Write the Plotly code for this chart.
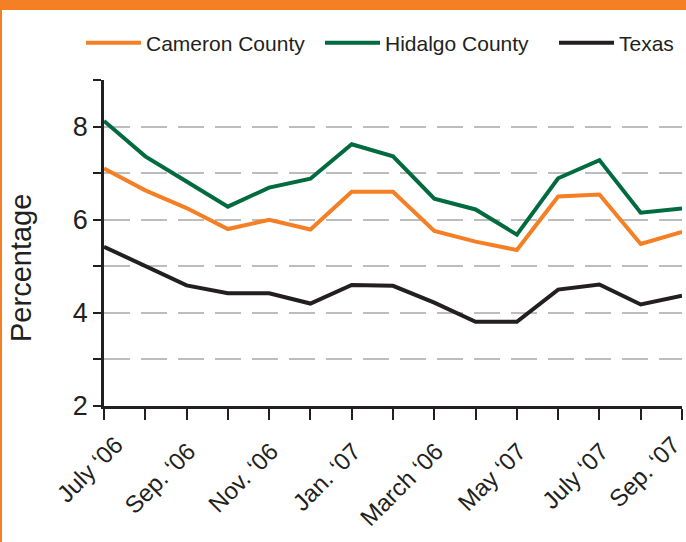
import plotly.graph_objects as go

months = ["Jul 06", "Aug 06", "Sep 06", "Oct 06", "Nov 06", "Dec 06", "Jan 07", "Feb 07",
          "Mar 07", "Apr 07", "May 07", "Jun 07", "Jul 07", "Aug 07", "Sep 07"]
tick_labels = ["July \u201806", "", "Sep. \u201806", "", "Nov. \u201806", "", "Jan. \u201807", "",
               "March \u201806", "", "May \u201807", "", "July \u201807", "", "Sep. \u201807"]
cameron = [7.1, 6.63, 6.25, 5.8, 6.0, 5.79, 6.6, 6.6, 5.76, 5.53, 5.35, 6.5, 6.54, 5.48, 5.74]
hidalgo = [8.12, 7.36, 6.82, 6.28, 6.69, 6.88, 7.62, 7.36, 6.45, 6.22, 5.68, 6.89, 7.28, 6.15, 6.24]
texas = [5.42, 5.0, 4.59, 4.42, 4.42, 4.2, 4.6, 4.58, 4.22, 3.81, 3.81, 4.5, 4.61, 4.18, 4.37]
y_ticks = [2, 3, 4, 5, 6, 7, 8, 9]
y_labels = ["2", "", "4", "", "6", "", "8", ""]

x_idx = list(range(len(months)))
n_last = len(months) - 1

W, H = 686, 542
L, R, T, B = 104, 4, 80, 136
pw, ph = W - L - R, H - T - B
def px(x):
    return (x - L) / pw
def py(y):
    return (H - B - y) / ph

fig = go.Figure()
series = [("Cameron County", cameron, "#f47f24", "legend", 81),
          ("Hidalgo County", hidalgo, "#006b3f", "legend2", 320),
          ("Texas", texas, "#231f20", "legend3", 554)]
legends = {}
for name, vals, col, lg, lx in series:
    fig.add_trace(go.Scatter(x=x_idx, y=vals, mode="lines", name=name, legend=lg,
                             line=dict(color=col, width=4), hoverinfo="skip"))
    legends[lg] = dict(x=px(lx), y=py(43), xanchor="left", yanchor="middle",
                       font=dict(size=21, color="#231f20"), bgcolor="rgba(0,0,0,0)",
                       borderwidth=0, itemwidth=55)

# helper (markless) traces so the overlay label axes are drawn
for ax in ("x2", "x3"):
    fig.add_trace(go.Scatter(x=x_idx, y=texas, mode="none", xaxis=ax, yaxis="y",
                             showlegend=False, hoverinfo="skip"))

# middle labels on the main axis, first/last labels on overlay axes (own offsets)
mid_labels = [t if 0 < i < n_last else "" for i, t in enumerate(tick_labels)]
label_font = dict(size=24, color="#231f20")
common_overlay = dict(range=[0, n_last], overlaying="x", anchor="y", side="bottom",
                      tickmode="array", tickangle=-45, ticks="", showline=False,
                      showgrid=False, zeroline=False, tickfont=label_font,
                      ticklabeloverflow="allow", ticklabelstandoff=19)

fig.update_layout(
    width=W, height=H,
    margin=dict(l=L, r=R, t=T, b=B, autoexpand=False),
    paper_bgcolor="white", plot_bgcolor="white",
    font=dict(family="Liberation Sans, Arial, sans-serif", color="#231f20"),
    showlegend=True,
    xaxis=dict(range=[0, n_last], tickmode="array", tickvals=x_idx, ticktext=mid_labels,
               tickangle=-45, ticks="outside", ticklen=11, tickwidth=2, tickcolor="#231f20",
               showline=True, linecolor="#231f20", linewidth=2.5, showgrid=False,
               zeroline=False, tickfont=label_font,
               ticklabeloverflow="allow", ticklabelstandoff=8, ticklabelshift=2),
    xaxis2=dict(tickvals=[0], ticktext=[tick_labels[0]], ticklabelshift=12, **common_overlay),
    xaxis3=dict(tickvals=[n_last], ticktext=[tick_labels[n_last]], ticklabelshift=-9,
                **common_overlay),
    yaxis=dict(range=[2, 9], tickmode="array", tickvals=y_ticks, ticktext=y_labels,
               ticks="outside", ticklen=8, tickwidth=2, tickcolor="#231f20",
               showline=True, linecolor="#231f20", linewidth=2.5,
               showgrid=True, gridcolor="#bdbdbd", gridwidth=2, griddash="26px,11px",
               zeroline=False, tickfont=dict(size=27, color="#231f20")),
    annotations=[
        dict(text="Percentage", textangle=-90, xref="paper", yref="paper",
             x=px(21), y=py(268), xanchor="center", yanchor="middle", showarrow=False,
             font=dict(size=29, color="#231f20")),
    ],
    shapes=[
        dict(type="rect", xref="paper", yref="paper", x0=px(0), x1=px(W), y0=py(10), y1=py(0),
             fillcolor="#f47f24", line=dict(width=0), layer="above"),
        dict(type="rect", xref="paper", yref="paper", x0=px(0), x1=px(2), y0=py(H), y1=py(0),
             fillcolor="#f47f24", line=dict(width=0), layer="above"),
    ],
    **legends,
)

fig.write_html("out.html", config={"displayModeBar": False},
               post_script="document.body.style.margin='0';document.body.style.overflow='hidden';")
